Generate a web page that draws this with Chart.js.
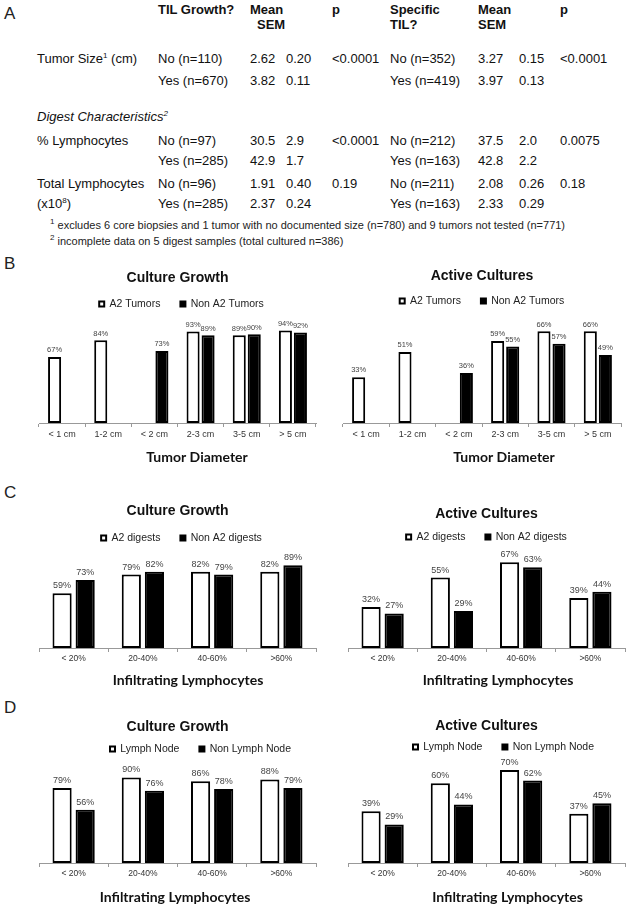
<!DOCTYPE html>
<html>
<head>
<meta charset="utf-8">
<script src="https://cdn.jsdelivr.net/npm/chart.js@4.4.1/dist/chart.umd.min.js"></script>
<style>
html, body { margin: 0; padding: 0; background: #fff; }
body { width: 629px; height: 908px; position: relative; overflow: hidden;
       font-family: "Liberation Sans", Arial, sans-serif; color: #111; }
.t { position: absolute; white-space: nowrap; font-size: 13px; line-height: 16px; }
.b { font-weight: bold; }
.fn { font-size: 11px; color: #222; }
.panel { position: absolute; font-size: 17px; line-height: 20px; color: #222; }
sup { font-size: 8px; line-height: 0; vertical-align: 5px; }
canvas { position: absolute; }
</style>
</head>
<body>
<script>
// ---- panel A table ----
const rowLabels = ['Tumor Size<sup>1</sup> (cm)', '% Lymphocytes', 'Total Lymphocytes'];
const tilGroups = [['No (n=110)', 'Yes (n=670)'], ['No (n=97)', 'Yes (n=285)'], ['No (n=96)', 'Yes (n=285)']];
const tilMean = [['2.62', '3.82'], ['30.5', '42.9'], ['1.91', '2.37']];
const tilSem = [['0.20', '0.11'], ['2.9', '1.7'], ['0.40', '0.24']];
const tilP = ['&lt;0.0001', '&lt;0.0001', '0.19'];
const specGroups = [['No (n=352)', 'Yes (n=419)'], ['No (n=212)', 'Yes (n=163)'], ['No (n=211)', 'Yes (n=163)']];
const specMean = [['3.27', '3.97'], ['37.5', '42.8'], ['2.08', '2.33']];
const specSem = [['0.15', '0.13'], ['2.0', '2.2'], ['0.26', '0.29']];
const specP = ['&lt;0.0001', '0.0075', '0.18'];
const footnotes = [
  '<sup>1</sup> excludes 6 core biopsies and 1 tumor with no documented size (n=780) and 9 tumors not tested (n=771)',
  '<sup>2</sup> incomplete data on 5 digest samples (total cultured n=386)'
];

// ---- bar chart data ----
const sizeLabels = ['< 1 cm', '1-2 cm', '< 2 cm', '2-3 cm', '3-5 cm', '> 5 cm'];
const lymphLabels = ['< 20%', '20-40%', '40-60%', '>60%'];
const growthA2Tumors = [67, 84, null, 93, 89, 94];
const growthNonA2Tumors = [null, null, 73, 89, 90, 92];
const activeA2Tumors = [33, 51, null, 59, 66, 66];
const activeNonA2Tumors = [null, null, 36, 55, 57, 49];
const growthA2Digests = [59, 79, 82, 82];
const growthNonA2Digests = [73, 82, 79, 89];
const activeA2Digests = [32, 55, 67, 39];
const activeNonA2Digests = [27, 29, 63, 44];
const growthLymphNode = [79, 90, 86, 88];
const growthNonLymphNode = [56, 76, 78, 79];
const activeLymphNode = [39, 60, 70, 37];
const activeNonLymphNode = [29, 44, 62, 45];

// table layout
const colX = { label: 37, grp: 158, mean: 250, sem: 286, p: 332, grp2: 390, mean2: 478, sem2: 519, p2: 560 };
const rowY = [[59, 81], [141, 161], [184, 204]];

function put(html, x, y, cls) {
  const d = document.createElement('div');
  d.className = 't ' + (cls || '');
  d.innerHTML = html;
  d.style.left = x + 'px';
  d.style.top = (y - 8) + 'px';
  document.body.appendChild(d);
}
function panel(letter, y) {
  const d = document.createElement('div');
  d.className = 'panel';
  d.textContent = letter;
  d.style.left = '4px';
  d.style.top = (y - 10) + 'px';
  document.body.appendChild(d);
}

panel('A', 14); panel('B', 264); panel('C', 493); panel('D', 708);

put('TIL Growth?', colX.grp, 10, 'b');
put('Mean', colX.mean, 10, 'b');
put('SEM', 257, 25, 'b');
put('p', colX.p, 10, 'b');
put('Specific', colX.grp2, 10, 'b');
put('TIL?', colX.grp2, 25, 'b');
put('Mean', colX.mean2, 10, 'b');
put('SEM', colX.mean2, 25, 'b');
put('p', colX.p2, 10, 'b');
put('<i>Digest Characteristics<sup>2</sup></i>', colX.label, 117);
put('(x10<sup>8</sup>)', colX.label, rowY[2][1]);

rowLabels.forEach((lab, i) => {
  put(lab, colX.label, rowY[i][0]);
  put(tilP[i], colX.p, rowY[i][0]);
  put(specP[i], colX.p2, rowY[i][0]);
  for (let k = 0; k < 2; k++) {
    const y = rowY[i][k];
    put(tilGroups[i][k], colX.grp, y);
    put(tilMean[i][k], colX.mean, y);
    put(tilSem[i][k], colX.sem, y);
    put(specGroups[i][k], colX.grp2, y);
    put(specMean[i][k], colX.mean2, y);
    put(specSem[i][k], colX.sem2, y);
  }
});
put(footnotes[0], 50, 225, 'fn');
put(footnotes[1], 50, 241, 'fn');

// ---- plugins ----
const valueLabels = {
  id: 'valueLabels',
  afterDatasetsDraw(chart, args, opts) {
    const ctx = chart.ctx;
    ctx.save();
    ctx.font = opts.size + 'px "Liberation Sans", Arial, sans-serif';
    ctx.fillStyle = '#444';
    ctx.textAlign = 'center';
    ctx.textBaseline = 'bottom';
    chart.data.datasets.forEach((ds, i) => {
      chart.getDatasetMeta(i).data.forEach((bar, j) => {
        const v = ds.data[j];
        if (v == null) return;
        ctx.fillText(v + '%', bar.x, bar.y - 3);
      });
    });
    ctx.restore();
  }
};

const axisTitle = {
  id: 'axisTitle',
  afterDraw(chart, args, opts) {
    const { ctx, chartArea } = chart;
    ctx.save();
    ctx.font = 'bold 14px Lato, "Liberation Sans", sans-serif';
    ctx.fillStyle = '#111';
    ctx.textAlign = 'center';
    ctx.textBaseline = 'middle';
    ctx.fillText(opts.text, (chartArea.left + chartArea.right) / 2 + opts.dx, chartArea.bottom + opts.dy);
    ctx.restore();
  }
};

const legendShift = {
  id: 'legendShift',
  afterLayout(chart, args, opts) {
    if (chart.legend && opts.dx) {
      chart.legend.left += opts.dx;
      chart.legend.right += opts.dx;
    }
  }
};

Chart.defaults.font.family = '"Liberation Sans", Arial, sans-serif';
Chart.defaults.color = '#222';

function makeChart(c) {
  const canvas = document.createElement('canvas');
  const top = Math.round(c.titleY - 12.4);
  const height = Math.round(c.axisY + 44 - top);
  const tickLen = 4, tickPad = 2;
  const scaleH = tickLen + 2 * tickPad + c.tickSize * 1.2;
  const legPad = 20, legFont = 10.5;
  const chartTop = c.legendY + legFont / 2 + 10;
  canvas.width = c.width;
  canvas.height = height;
  canvas.style.left = c.left + 'px';
  canvas.style.top = top + 'px';
  document.body.appendChild(canvas);

  new Chart(canvas.getContext('2d'), {
    type: 'bar',
    data: {
      labels: c.labels,
      datasets: [
        { label: c.names[0], data: c.series[0], backgroundColor: '#fff', borderColor: '#000',
          borderWidth: 2, borderSkipped: false },
        { label: c.names[1], data: c.series[1], backgroundColor: '#000', borderColor: '#000',
          borderWidth: 2, borderSkipped: false }
      ]
    },
    options: {
      responsive: false,
      animation: false,
      events: [],
      categoryPercentage: c.catPct,
      barPercentage: c.barPct,
      layout: { padding: { left: 4, right: 4, top: 0, bottom: height - (c.axisY - top) - scaleH } },
      scales: {
        x: {
          grid: { display: true, drawOnChartArea: false, drawTicks: true, tickLength: tickLen,
                  color: '#999', offset: true },
          border: { display: true, color: '#999', width: 1 },
          ticks: { font: { size: c.tickSize }, color: '#333', padding: tickPad }
        },
        y: { display: false, min: 0, max: (c.axisY - chartTop) / c.pxPer }
      },
      plugins: {
        title: {
          display: true, text: c.title, color: '#111',
          font: { size: 14, weight: 'bold' },
          padding: { top: c.titleY - 8.4 - top, bottom: c.legendY - c.titleY - 8.4 - legPad - legFont / 2 }
        },
        legend: {
          display: true,
          labels: { boxWidth: 5, boxHeight: 5, padding: legPad, color: '#222', font: { size: legFont } }
        },
        tooltip: { enabled: false },
        valueLabels: { size: c.valSize },
        axisTitle: { text: c.xTitle, dx: c.xdx, dy: c.xdy },
        legendShift: { dx: c.legDx }
      }
    },
    plugins: [valueLabels, axisTitle, legendShift]
  });
}

const tumorNames = ['A2 Tumors', 'Non A2 Tumors'];
const digestNames = ['A2 digests', 'Non A2 digests'];
const nodeNames = ['Lymph Node', 'Non Lymph Node'];

makeChart({ left: 35, width: 285, titleY: 278, legendY: 304, axisY: 423, pxPer: 0.985,
  title: 'Culture Growth', names: tumorNames, labels: sizeLabels,
  series: [growthA2Tumors, growthNonA2Tumors], catPct: 0.65, barPct: 0.87,
  tickSize: 9, valSize: 7.5, xTitle: 'Tumor Diameter', xdx: 19.5, xdy: 34, legDx: 4 });
makeChart({ left: 339, width: 286, titleY: 276, legendY: 301, axisY: 423, pxPer: 1.39,
  title: 'Active Cultures', names: tumorNames, labels: sizeLabels,
  series: [activeA2Tumors, activeNonA2Tumors], catPct: 0.65, barPct: 0.87,
  tickSize: 9, valSize: 7.5, xTitle: 'Tumor Diameter', xdx: 22, xdy: 34, legDx: 0 });
makeChart({ left: 35, width: 285, titleY: 511, legendY: 538, axisY: 648, pxPer: 0.93,
  title: 'Culture Growth', names: digestNames, labels: lymphLabels,
  series: [growthA2Digests, growthNonA2Digests], catPct: 0.667, barPct: 0.83,
  tickSize: 8.5, valSize: 9, xTitle: 'Infiltrating Lymphocytes', xdx: 10.5, xdy: 32, legDx: 4 });
makeChart({ left: 344, width: 285, titleY: 514, legendY: 537, axisY: 648, pxPer: 1.28,
  title: 'Active Cultures', names: digestNames, labels: lymphLabels,
  series: [activeA2Digests, activeNonA2Digests], catPct: 0.667, barPct: 0.83,
  tickSize: 8.5, valSize: 9, xTitle: 'Infiltrating Lymphocytes', xdx: 11.5, xdy: 32, legDx: 0 });
makeChart({ left: 35, width: 285, titleY: 727, legendY: 749, axisY: 863, pxPer: 0.95,
  title: 'Culture Growth', names: nodeNames, labels: lymphLabels,
  series: [growthLymphNode, growthNonLymphNode], catPct: 0.667, barPct: 0.83,
  tickSize: 8.5, valSize: 9, xTitle: 'Infiltrating Lymphocytes', xdx: -2.5, xdy: 34, legDx: 23 });
makeChart({ left: 344, width: 285, titleY: 726, legendY: 747, axisY: 863, pxPer: 1.33,
  title: 'Active Cultures', names: nodeNames, labels: lymphLabels,
  series: [activeLymphNode, activeNonLymphNode], catPct: 0.667, barPct: 0.83,
  tickSize: 8.5, valSize: 9, xTitle: 'Infiltrating Lymphocytes', xdx: 21, xdy: 34, legDx: 17 });
</script>
</body>
</html>
